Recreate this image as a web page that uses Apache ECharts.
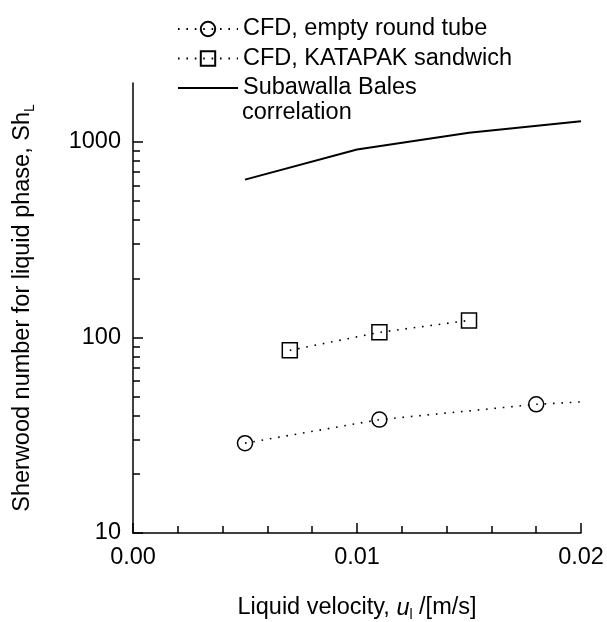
<!DOCTYPE html>
<html>
<head>
<meta charset="utf-8">
<script src="https://cdn.jsdelivr.net/npm/echarts@6/dist/echarts.min.js"></script>
<style>
  html, body { margin: 0; padding: 0; background: #fff; }
  #main { width: 607px; height: 622px; }
</style>
</head>
<body>
<div id="main"></div>
<script>
// values
var xTube = [0.005, 0.011, 0.018, 0.02];
var shTube = [28.8, 38.0, 45.5, 46.8];
var tubeMarked = [true, true, true, false];

var xSandwich = [0.007, 0.011, 0.015];
var shSandwich = [85.9, 106.2, 122.2];

var xCorr = [0.005, 0.01, 0.015, 0.02];
var shCorr = [641, 914, 1112, 1274];

var yMajorTicks = [10, 100, 1000];
var yMinorTicks = [20, 30, 40, 50, 60, 70, 80, 90, 200, 300, 400, 500, 600, 700, 800, 900];

var font = 'Liberation Sans, Arial, sans-serif';
var black = '#000';
var fs = 23.5;
var gridW = 607 - 133 - 26;

function pairs(xs, ys, marked) {
    return xs.map(function (x, i) {
        var item = { value: [x, ys[i]] };
        if (marked && !marked[i]) item.symbol = 'none';
        return item;
    });
}

// extra log axes that only carry tick marks; placed on the right and
// shifted back onto the left edge so their outward ticks point into the plot
function tickAxis(values, len) {
    return {
        type: 'log',
        logBase: 10,
        min: 10,
        max: 2000,
        position: 'right',
        offset: -gridW,
        axisLine: { show: false },
        axisTick: { show: true, inside: false, length: len, customValues: values, lineStyle: { color: black, width: 1.5 } },
        splitLine: { show: false },
        axisLabel: { show: false }
    };
}

var myChart = echarts.init(document.getElementById('main'));
var option = {
    animation: false,
    backgroundColor: '#fff',
    textStyle: { fontFamily: font, color: black },
    grid: { left: 133, right: 26, top: 83, bottom: 89, outerBoundsMode: 'none' },
    legend: {
        orient: 'vertical',
        left: 177,
        top: 15,
        padding: 0,
        itemGap: 1.5,
        itemWidth: 60,
        itemHeight: 18,
        textStyle: { fontSize: fs, fontFamily: font, color: black, lineHeight: 28 },
        data: [
            'CFD, empty round tube',
            'CFD, KATAPAK sandwich',
            // plain line icon, the zero-length pieces keep it full height
            { name: 'Subawalla Bales', icon: 'path://M0,0 L0,0.01 M0,8 L60,8 L60,10 L0,10 Z M0,18 L0,18.01' }
        ]
    },
    graphic: [{
        type: 'text',
        left: 242,
        top: 101,
        style: { text: 'correlation', fontSize: fs, fontFamily: font, fill: black }
    }],
    xAxis: {
        type: 'value',
        min: 0,
        max: 0.02,
        interval: 0.01,
        name: '{a|Liquid velocity, }{i|u}{s|l}{a| /[m/s]}',
        nameLocation: 'middle',
        nameGap: 61,
        nameTextStyle: {
            rich: {
                a: { fontSize: fs, fontFamily: font, color: black, lineHeight: 28 },
                i: { fontSize: fs, fontFamily: font, color: black, fontStyle: 'italic', lineHeight: 28 },
                s: { fontSize: 14, fontFamily: font, color: black, lineHeight: 14, verticalAlign: 'bottom' }
            }
        },
        axisLine: { lineStyle: { color: black, width: 1.5 } },
        axisTick: { inside: true, length: 10, lineStyle: { color: black, width: 1.5 } },
        minorTick: { show: true, splitNumber: 5, length: 7, lineStyle: { color: black, width: 1.5 } },
        splitLine: { show: false },
        axisLabel: {
            margin: 13,
            fontSize: fs,
            fontFamily: font,
            color: black,
            formatter: function (v) { return v.toFixed(2); }
        }
    },
    yAxis: [{
        type: 'log',
        logBase: 10,
        min: 10,
        max: 2000,
        position: 'left',
        name: '{a|Sherwood number for liquid phase, Sh}{s|L}',
        nameLocation: 'middle',
        nameGap: 96,
        nameTextStyle: {
            rich: {
                a: { fontSize: fs, fontFamily: font, color: black, lineHeight: 28 },
                s: { fontSize: 14, fontFamily: font, color: black, lineHeight: 14, verticalAlign: 'bottom' }
            }
        },
        axisLine: { show: true, lineStyle: { color: black, width: 1.5 } },
        axisTick: { show: false },
        splitLine: { show: false },
        axisLabel: {
            margin: 12, fontSize: fs, fontFamily: font, color: black, customValues: yMajorTicks,
            formatter: function (v) { return String(v); }
        }
    }, tickAxis(yMajorTicks, 10), tickAxis(yMinorTicks, 7)],
    series: [{
        name: 'CFD, empty round tube',
        type: 'line',
        data: pairs(xTube, shTube, tubeMarked),
        symbol: 'circle',
        symbolSize: 15,
        itemStyle: { color: 'rgba(0,0,0,0)', borderColor: black, borderWidth: 1.5 },
        lineStyle: { color: black, width: 1.6, type: [1.6, 6.8] }
    }, {
        name: 'CFD, KATAPAK sandwich',
        type: 'line',
        data: pairs(xSandwich, shSandwich),
        symbol: 'rect',
        symbolSize: 15,
        itemStyle: { color: 'rgba(0,0,0,0)', borderColor: black, borderWidth: 1.5 },
        lineStyle: { color: black, width: 1.6, type: [1.6, 6.8] }
    }, {
        name: 'Subawalla Bales',
        type: 'line',
        data: pairs(xCorr, shCorr),
        symbol: 'none',
        itemStyle: { color: black },
        lineStyle: { color: black, width: 2 }
    }]
};
myChart.setOption(option);
</script>
</body>
</html>
